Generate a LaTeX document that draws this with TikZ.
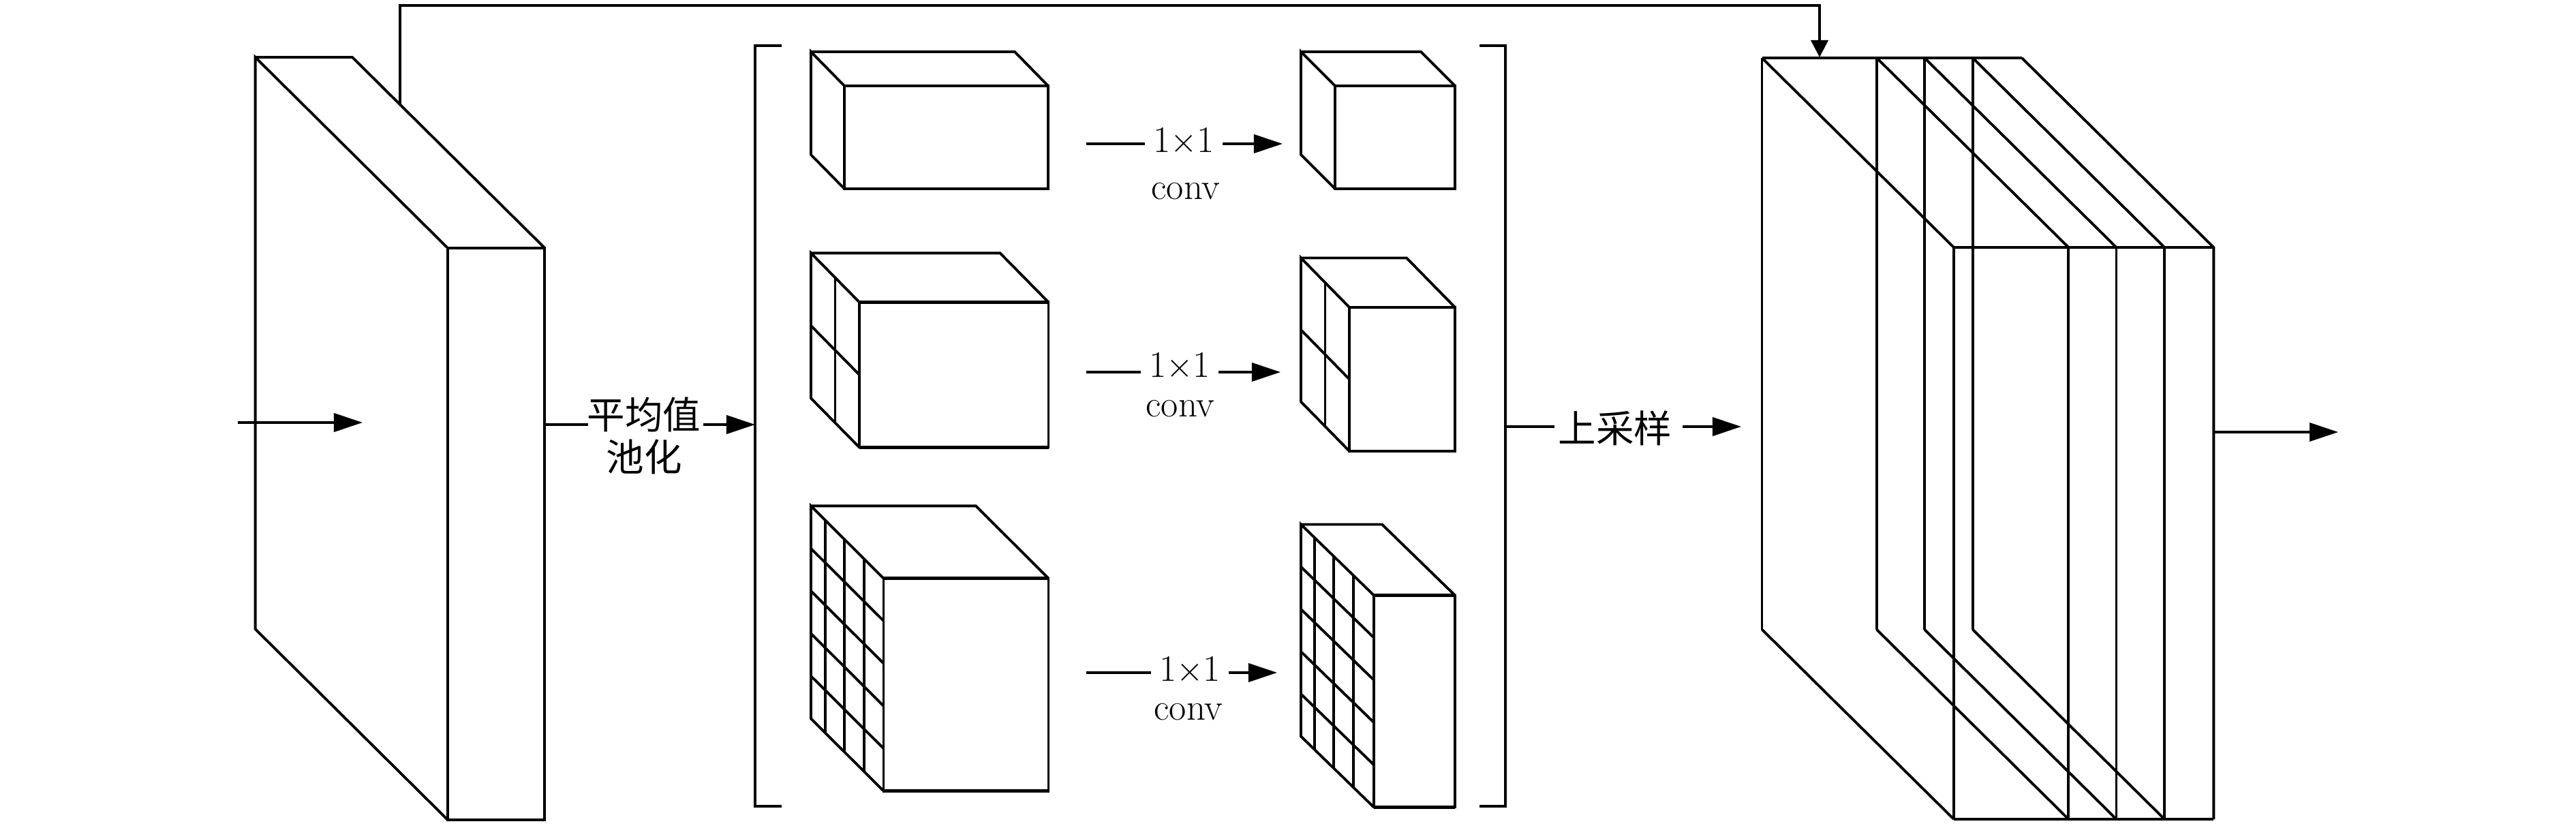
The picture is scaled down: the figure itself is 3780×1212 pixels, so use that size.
\documentclass[tikz,border=0pt]{standalone}
\usepackage{fontspec}
\newfontfamily\cjk{Noto Sans CJK SC}
\usetikzlibrary{arrows.meta}
\newcommand\mycube[6]{%
  \draw (#1,#2) -- (#1+#3,#2) -- (#1+#3+#5,#2+#6);
  \draw (#1+#5,#2+#6) -- (#1,#2) -- (#1,#2+#4) -- (#1+#5,#2+#4+#6);
  \draw (#1+#5,#2+#6) rectangle (#1+#5+#3,#2+#6+#4);
  \draw[hline] (#1+#5,#2+#6) -- (#1+#5+#3,#2+#6);
  \draw[hline] (#1+#5,#2+#6+#4) -- (#1+#5+#3,#2+#6+#4);
}
% x, y, h, dx, dy, s-list, t-list
\newcommand\mygrid[7]{%
  \foreach \s in {#6} {\draw (#1+\s*#4,#2+\s*#5) -- (#1+\s*#4,#2+\s*#5+#3);}
  \foreach \t in {#7} {\draw (#1,#2+\t*#3) -- (#1+#4,#2+#5+\t*#3);}
}
\begin{document}
\begin{tikzpicture}[x=0.01cm,y=-0.01cm,line width=1.1pt,line join=miter,
  hline/.style={line width=1.35pt},
  arr/.style={-{Triangle[length=0.42cm,width=0.27cm]}},
  sarr/.style={-{Triangle[length=0.25cm,width=0.25cm]}},
  cn/.style={font=\cjk\fontsize{15.8}{17.6}\selectfont,inner sep=0pt,anchor=base},
  lt/.style={font=\fontsize{15.6}{18}\selectfont,inner ysep=0pt,inner xsep=3pt,anchor=base}]
\path[use as bounding box] (0,0) rectangle (3780,1212);

% ---- left slab ----
\mycube{374.6}{84}{142.4}{839}{282.4}{280}
\coordinate (skipA) at (587,154);
\coordinate (inA) at (349,620);
\coordinate (inB) at (532,620);
\draw[arr] (inA) -- (inB);

% ---- skip connection ----
\coordinate (skipB) at (2670,84);
\draw[sarr] (skipA) -- (587,8) -- (2670,8) -- (skipB);

% ---- pooling ----
\node[cn] (pool1) at (945,629) {平均值};
\node[cn] (pool2) at (945,691) {池化};
\coordinate (s1out) at (798,623);
\coordinate (lbr) at (1108,623);
\draw (s1out) -- ([xshift=0.03cm]s1out -| pool1.west);
\draw[arr] ([xshift=0.02cm]s1out -| pool1.east) -- (lbr);

% ---- brackets ----
\draw (1147,67) -- (1108,67) -- (1108,1183) -- (1147,1183);
\draw (2171,67) -- (2209,67) -- (2209,1183) -- (2171,1183);

% ---- row 1 ----
\mycube{1190}{76}{299}{151}{49}{50}
\mycube{1909}{76}{176}{151}{50}{50}
\node[lt] (t1) at (1737,223) {1$\times$1};
\node[lt] (c1) at (1740,292) {conv};
\coordinate (r1a) at (1594,211);
\coordinate (r1b) at (1882,211);
\draw (r1a) -- (r1a -| t1.west);
\draw[arr] (r1a -| t1.east) -- (r1b);

% ---- row 2 ----
\mycube{1190}{371.4}{277.5}{213}{71}{72}
\mygrid{1190}{371.4}{213}{71}{72}{0.5}{0.5}
\mycube{1909}{378.5}{155}{211}{71}{72.4}
\mygrid{1909}{378.5}{211}{71}{72.4}{0.5}{0.5}
\node[lt] (t2) at (1731,553) {1$\times$1};
\node[lt] (c2) at (1732,611) {conv};
\coordinate (r2a) at (1594,546);
\coordinate (r2b) at (1879,546);
\draw (r2a) -- (r2a -| t2.west);
\draw[arr] (r2a -| t2.east) -- (r2b);

% ---- row 3 ----
\mycube{1190}{742.4}{242}{312}{106.5}{106.2}
\mygrid{1190}{742.4}{312}{106.5}{106.2}{0.2,0.46,0.73}{0.2,0.4,0.6,0.8}
\mycube{1909}{769.5}{119}{311}{107}{104}
\mygrid{1909}{769.5}{311}{107}{104}{0.19,0.45,0.72}{0.2,0.4,0.6,0.8}
\node[lt] (t3) at (1746,999) {1$\times$1};
\node[lt] (c3) at (1744,1056) {conv};
\coordinate (r3a) at (1594,987);
\coordinate (r3b) at (1874,987);
\draw (r3a) -- (r3a -| t3.west);
\draw[arr] (r3a -| t3.east) -- (r3b);

% ---- upsampling ----
\node[cn] (up) at (2370,649) {上采样};
\coordinate (rbr) at (2209,626);
\coordinate (upB) at (2555,626);
\draw (rbr) -- ([xshift=-0.04cm]rbr -| up.west);
\draw[arr] ([xshift=0.14cm]rbr -| up.east) -- (upB);

% ---- concatenated stack ----
\draw[hline] (2585.5,85) -- (2966.8,85);
\draw[hline] (2867,363) -- (3248.3,363);
\draw[hline] (2867,1202) -- (3248.3,1202);
\foreach \b in {2585.5,2753.8,2824,2894.7} {
  \draw (\b,85) -- (\b,923.7);
  \draw (\b,85) -- (\b+281.5,363);
  \draw (\b,923.7) -- (\b+281.5,1202);
  \draw (\b+281.5,363) -- (\b+281.5,1202);
}
\draw (2966.8,85) -- (3248.3,363) -- (3248.3,1202);
\coordinate (outA) at (3248.3,634);
\coordinate (outB) at (3431,634);
\draw[arr] (outA) -- (outB);
\end{tikzpicture}
\end{document}
